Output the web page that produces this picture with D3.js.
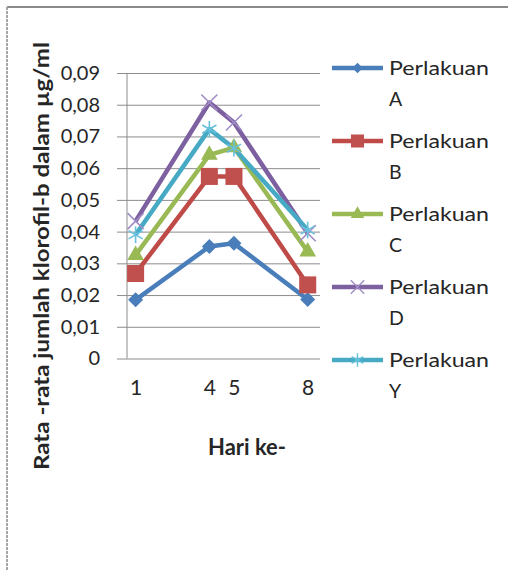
<!DOCTYPE html>
<html>
<head>
<meta charset="utf-8">
<script src="https://cdn.jsdelivr.net/npm/d3@7"></script>
<style>
  body { margin: 0; background: #fff; }
  text { font-family: Lato, "Open Sans", sans-serif; fill: #262626; }
</style>
</head>
<body>
<svg id="chart" width="508" height="571"></svg>
<script>
const days = [1, 4, 5, 8];
const seriesNames = ["A", "B", "C", "D", "Y"];
const perlakuanA = [0.0185, 0.0353, 0.0363, 0.0186];
const perlakuanB = [0.0268, 0.0574, 0.0574, 0.0232];
const perlakuanC = [0.0326, 0.0642, 0.0665, 0.0337];
const perlakuanD = [0.0433, 0.0807, 0.0744, 0.0395];
const perlakuanY = [0.0390, 0.0723, 0.0663, 0.0405];
const yTicks = [0, 0.01, 0.02, 0.03, 0.04, 0.05, 0.06, 0.07, 0.08, 0.09];
const xTitle = "Hari ke-";
const yTitle = "Rata -rata jumlah klorofil-b dalam µg/ml";

const svg = d3.select("#chart");

// frame of the chart area
svg.append("line").attr("x1", 7).attr("x2", 508).attr("y1", 7).attr("y2", 7)
  .attr("stroke", "#8a8a8a").attr("stroke-width", 2);
svg.append("line").attr("x1", 7).attr("x2", 7).attr("y1", 7).attr("y2", 571)
  .attr("stroke", "#a6a6a6").attr("stroke-width", 2).attr("stroke-dasharray", "3,1");

const xScale = d3.scaleLinear().domain([0.65, 8.5]).range([127, 320]);
const yScale = d3.scaleLinear().domain([0, 0.09]).range([358.5, 73]);

const fmt = (d) => (d === 0 ? "0" : d3.format(".2f")(d).replace(".", ","));

// y axis with gridlines
const yAxis = d3.axisLeft(yScale).tickValues(yTicks).tickFormat(fmt)
  .tickSize(-(320 - 117)).tickPadding(17);
const yAxisG = svg.append("g").attr("transform", "translate(117,0)").call(yAxis);
yAxisG.select(".domain").remove();
yAxisG.selectAll(".tick line").attr("stroke", "#8c8c8c");
yAxisG.selectAll(".tick text").attr("font-size", 20).attr("fill", "#262626")
  .attr("font-family", "Lato, sans-serif");
svg.append("line").attr("x1", 127).attr("x2", 127)
  .attr("y1", yScale(0.09)).attr("y2", yScale(0))
  .attr("stroke", "#8c8c8c");

// x axis labels only
const xAxis = d3.axisBottom(xScale).tickValues(days).tickSize(0).tickPadding(22);
const xAxisG = svg.append("g").attr("transform", `translate(0,${yScale(0)})`).call(xAxis);
xAxisG.select(".domain").remove();
xAxisG.selectAll(".tick text").attr("font-size", 21).attr("fill", "#262626")
  .attr("font-family", "Lato, sans-serif");

// titles
svg.append("text").attr("x", 247).attr("y", 455).attr("text-anchor", "middle")
  .attr("font-size", 22).attr("font-weight", "bold")
  .attr("textLength", 78).attr("lengthAdjust", "spacingAndGlyphs")
  .text(xTitle);
svg.append("text").attr("transform", "translate(49,256) rotate(-90)")
  .attr("text-anchor", "middle").attr("font-size", 21).attr("font-weight", "bold")
  .attr("textLength", 428).attr("lengthAdjust", "spacingAndGlyphs")
  .text(yTitle);

// series
const diamond = {
  draw(ctx, size) {
    const r = Math.sqrt(size) / 2;
    ctx.moveTo(0, -r); ctx.lineTo(r, 0); ctx.lineTo(0, r); ctx.lineTo(-r, 0); ctx.closePath();
  }
};
const series = [
  { name: seriesNames[0], values: perlakuanA, color: "#4a7ebb", mark: "#4a7ebb", type: diamond, size: 225, legendSize: 110, fill: true },
  { name: seriesNames[1], values: perlakuanB, color: "#be4b48", mark: "#c0504d", type: d3.symbolSquare, size: 290, legendSize: 170, fill: true },
  { name: seriesNames[2], values: perlakuanC, color: "#98b954", mark: "#98b954", type: d3.symbolTriangle, size: 120, legendSize: 80, fill: true },
  { name: seriesNames[3], values: perlakuanD, color: "#7d60a0", mark: "#a08dc6", type: d3.symbolTimes, size: 170, legendSize: 120, fill: false },
  { name: seriesNames[4], values: perlakuanY, color: "#46aac5", mark: "#67c0dc", type: d3.symbolAsterisk, size: 190, legendSize: 130, fill: false },
];

const line = d3.line().x((d, i) => xScale(days[i])).y((d) => yScale(d));

svg.selectAll(".plot-line").data(series).enter().append("path")
  .attr("class", "plot-line")
  .attr("d", (s) => line(s.values))
  .attr("fill", "none").attr("stroke", (s) => s.color).attr("stroke-width", 4.5)
  .attr("stroke-linejoin", "round");

series.forEach((s) => {
  svg.selectAll(null).data(s.values).enter().append("path")
    .attr("transform", (d, i) => `translate(${xScale(days[i])},${yScale(d)})`)
    .attr("d", d3.symbol().type(s.type).size(s.size))
    .attr("fill", s.fill ? s.mark : "none")
    .attr("stroke", s.mark).attr("stroke-width", s.fill ? 0 : 1.6);
});

// legend
const legend = svg.append("g");
series.forEach((s, i) => {
  const y = 68 + i * 73;
  legend.append("line").attr("x1", 332).attr("x2", 383).attr("y1", y).attr("y2", y)
    .attr("stroke", s.color).attr("stroke-width", 4.5);
  legend.append("path").attr("transform", `translate(357.5,${y})`)
    .attr("d", d3.symbol().type(s.type).size(s.legendSize))
    .attr("fill", s.fill ? s.mark : "none")
    .attr("stroke", s.mark).attr("stroke-width", s.fill ? 0 : 1.4);
  legend.append("text").attr("x", 389).attr("y", y + 7)
    .attr("font-size", 19.5).attr("textLength", 100).attr("lengthAdjust", "spacingAndGlyphs")
    .text("Perlakuan");
  legend.append("text").attr("x", 389).attr("y", y + 38)
    .attr("font-size", 19.5).text(s.name);
});
</script>
</body>
</html>
